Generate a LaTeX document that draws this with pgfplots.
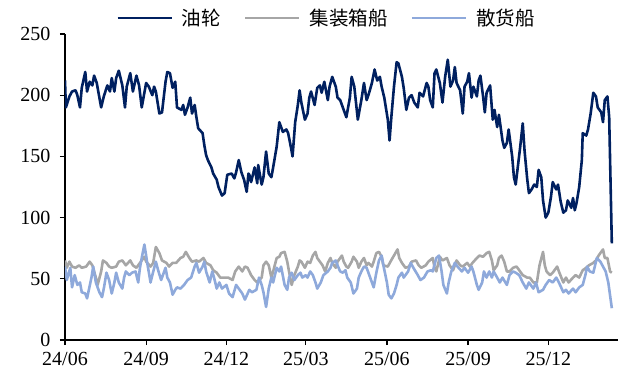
\documentclass[border=0pt]{standalone}
\usepackage{fontspec}
\setmainfont{Liberation Serif}
\newfontfamily\cjk{Noto Sans CJK SC}
\usepackage{pgfplots}
\pgfplotsset{compat=1.18}

\definecolor{tanker}{RGB}{0,32,96}
\definecolor{container}{RGB}{166,166,166}
\definecolor{bulk}{RGB}{142,169,219}

% x: days since 2024-06-01
\begin{document}
\begin{tikzpicture}
\useasboundingbox (-65bp,-34bp) rectangle (554bp,340bp);
\begin{axis}[
  at={(0,0)}, anchor=south west,
  scale only axis, width=553bp, height=306bp,
  xmin=0, xmax=627, ymin=0, ymax=250,
  axis x line*=bottom, axis y line*=left,
  axis line style={line width=1.2bp, -},
  tick align=outside, major tick length=5bp,
  tick style={line width=1.2bp, black},
  xtick={0,92,183,273,365,457,548},
  xticklabels={24/06,24/09,24/12,25/03,25/06,25/09,25/12},
  ytick={0,50,100,150,200,250},
  tick label style={font=\fontsize{20bp}{22bp}\selectfont},
  yticklabel style={xshift=-6bp},
  xticklabel style={yshift=-4bp},
  /pgf/number format/assume math mode=true,
  line join=round,
  legend style={at={(0.472,1.052)}, anchor=center, draw=none, fill=none,
    legend columns=3, font=\cjk\fontsize{19.5bp}{21bp}\selectfont,
    /tikz/every odd column/.append style={column sep=8bp},
    /tikz/every even column/.append style={column sep=22bp},
    nodes={inner sep=1bp}},
  legend image code/.code={\draw (0bp,0bp) -- (54bp,0bp);},
]
\addplot[tanker, line width=2.6bp] table {
0 212
1 190
5 199
8 203
12 204
14 200
17 190
19 206
23 219
25 203
28 211
31 208
33 216
36 210
41 190
44 199
48 208
51 203
53 214
56 203
58 214
61 220
65 208
68 190
70 207
74 218
77 203
81 216
84 208
87 190
92 210
95 207
99 200
101 207
103 203
107 185
110 186
114 211
116 219
119 218
122 206
125 211
127 190
132 188
134 192
136 184
139 190
142 198
144 185
147 192
149 182
151 173
156 169
158 159
160 151
162 147
166 141
168 136
172 131
174 125
178 118
181 120
184 135
189 136
192 132
194 137
197 147
200 137
203 131
206 121
208 136
209 135
211 129
215 141
218 128
219 143
223 127
225 133
228 154
231 136
234 133
236 141
240 158
243 178
247 170
251 172
253 169
256 158
258 150
261 178
264 192
266 204
268 194
272 180
275 185
277 198
279 203
283 192
286 206
289 208
291 202
294 211
298 196
300 207
303 215
307 207
309 198
312 196
315 190
319 182
323 198
325 215
328 207
332 180
336 196
339 210
342 196
344 200
348 210
351 221
354 212
357 215
359 207
362 198
366 180
368 163
370 182
373 207
376 227
378 226
382 215
384 206
387 188
390 198
393 200
396 194
400 190
402 202
406 199
410 210
412 207
414 196
417 190
419 218
421 221
425 210
428 194
431 215
434 229
437 207
440 212
442 223
444 210
448 204
451 185
453 207
456 211
458 218
461 198
463 207
467 199
469 212
471 216
474 199
476 186
478 202
482 208
485 180
487 188
490 174
492 184
496 163
498 157
501 161
503 172
507 150
509 133
511 127
513 139
516 157
519 177
521 155
524 132
526 120
529 123
532 127
535 125
537 139
540 133
542 114
545 100
548 104
551 117
553 129
557 123
559 127
562 113
565 104
568 106
570 114
574 108
576 116
578 106
580 112
583 125
586 147
587 169
591 167
593 172
596 185
599 202
602 199
604 190
608 186
610 178
612 196
615 199
617 182
620 79
};
\addlegendentry{油轮}
\addplot[container, line width=2.6bp] table {
0 65
2 59
5 64
8 60
12 59
16 61
19 59
24 60
28 64
31 61
35 51
37 45
41 56
43 65
47 63
50 60
53 59
58 60
61 64
65 65
69 61
74 65
77 61
81 59
85 63
90 68
92 64
97 60
100 63
103 76
107 71
110 65
115 63
118 60
122 63
126 63
131 67
134 68
137 72
141 67
144 64
149 65
152 64
157 67
160 63
165 61
168 57
172 55
176 51
181 51
185 51
190 49
193 56
197 60
201 56
204 60
207 59
211 53
215 49
218 47
223 51
225 61
228 64
231 61
234 51
236 56
240 67
243 68
245 71
249 72
252 64
254 56
257 45
260 53
264 60
266 65
268 64
272 59
275 64
278 63
281 69
284 72
286 67
290 63
292 61
295 56
298 63
301 67
303 63
307 59
309 64
314 69
316 64
319 60
321 59
325 64
327 68
331 64
333 59
336 64
339 67
342 61
344 63
348 60
350 64
353 71
356 72
359 68
361 61
366 60
369 64
373 69
377 74
379 67
382 63
386 59
390 60
393 64
398 65
401 61
404 59
409 61
412 64
417 67
419 59
421 56
425 68
428 65
433 67
436 61
440 57
444 65
448 61
451 60
456 63
459 60
462 63
467 67
470 69
474 68
478 71
481 72
484 65
486 57
490 61
492 67
495 69
498 64
501 56
504 56
508 59
512 60
516 56
519 53
524 51
527 51
531 47
535 47
538 61
542 72
544 61
546 56
550 53
553 55
558 60
560 56
565 47
568 51
571 47
576 51
579 53
583 51
587 57
591 59
594 61
599 63
602 65
605 69
610 74
612 67
615 67
618 56
620 55
};
\addlegendentry{集装箱船}
\addplot[bulk, line width=2.6bp] table {
0 60
2 49
6 59
8 43
11 53
14 45
17 47
19 39
23 38
25 34
30 51
32 60
35 47
39 39
42 35
44 42
47 55
50 49
53 38
56 47
58 55
61 47
65 42
67 51
69 56
73 53
76 55
80 56
83 47
85 59
87 67
90 78
92 69
93 64
97 47
99 53
103 64
106 56
109 49
111 53
114 59
116 51
119 47
122 37
125 41
127 43
131 42
135 45
139 49
143 51
147 60
149 63
152 55
156 60
158 64
160 56
164 47
167 56
169 51
172 42
175 47
178 42
183 45
186 38
190 35
194 45
197 42
201 38
204 33
209 41
212 39
217 41
220 51
223 45
225 39
228 27
231 42
234 51
236 47
240 59
243 56
245 60
249 45
252 41
254 51
257 55
260 49
264 53
267 55
269 51
273 53
275 51
278 56
281 53
284 47
286 42
290 47
293 53
298 56
301 59
303 63
307 65
309 61
312 56
315 55
318 57
320 51
324 47
327 38
331 42
333 51
336 56
339 60
342 59
344 55
348 47
350 43
353 55
356 65
359 69
361 61
365 47
367 37
370 34
373 38
376 45
378 51
382 55
384 51
389 56
392 63
395 59
400 53
403 49
407 51
411 56
415 57
417 56
421 67
424 69
427 56
429 45
433 38
435 47
438 56
442 63
445 60
450 56
453 59
457 55
461 60
463 56
467 45
469 41
473 47
475 56
478 51
481 56
484 51
486 56
490 51
493 47
496 51
501 45
504 53
508 56
511 55
515 53
519 47
523 42
526 47
531 42
534 47
537 39
542 41
545 45
549 49
553 47
557 51
560 47
565 39
568 41
571 38
576 42
579 39
583 43
587 45
590 53
592 60
595 56
599 55
601 61
603 67
607 64
610 60
613 56
616 47
620 26
};
\addlegendentry{散货船}
\end{axis}
\end{tikzpicture}
\end{document}
